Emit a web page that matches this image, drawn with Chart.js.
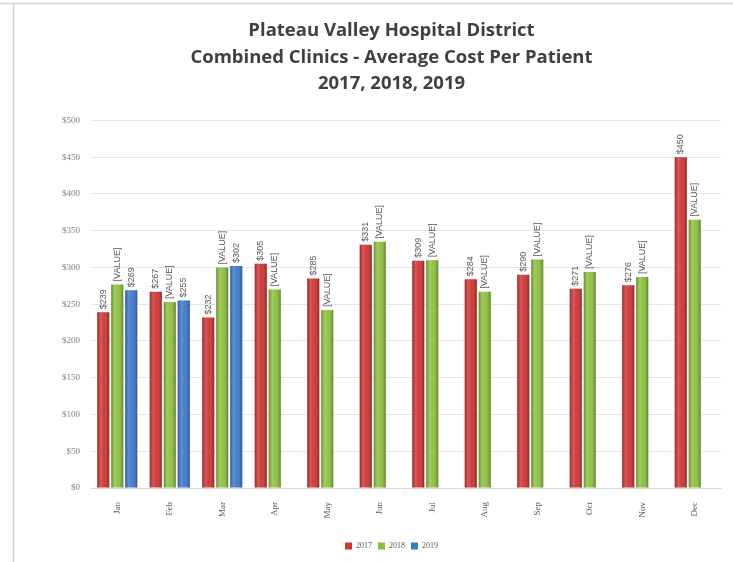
<!DOCTYPE html>
<html>
<head>
<meta charset="utf-8">
<script src="https://cdn.jsdelivr.net/npm/chart.js@4"></script>
<style>
html,body{margin:0;padding:0;background:#fff;}
#wrap{position:relative;width:733px;height:562px;}
</style>
</head>
<body>
<div id="wrap"><canvas id="c" width="733" height="562"></canvas></div>
<script>
const months = ['Jan','Feb','Mar','Apr','May','Jun','Jul','Aug','Sep','Oct','Nov','Dec'];
const seriesNames = ['2017','2018','2019'];
const values2017 = [239,267,232,305,285,331,309,284,290,271,276,450];
const values2018 = [277,253,300,270,242,335,310,267,311,294,287,365];
const values2019 = [269,255,302,null,null,null,null,null,null,null,null,null];
const labels2017 = ['$239','$267','$232','$305','$285','$331','$309','$284','$290','$271','$276','$450'];
const labels2018 = ['[VALUE]','[VALUE]','[VALUE]','[VALUE]','[VALUE]','[VALUE]','[VALUE]','[VALUE]','[VALUE]','[VALUE]','[VALUE]','[VALUE]'];
const labels2019 = ['$269','$255','$302',null,null,null,null,null,null,null,null,null];
const yTicks = [0,50,100,150,200,250,300,350,400,450,500];
const titleLines = ['Plateau Valley Hospital District','Combined Clinics - Average Cost Per Patient','2017, 2018, 2019'];

const colors = ['#D03232','#8CC03C','#3A78CC'];
const pointLabels = [labels2017, labels2018, labels2019];

const framePlugin = {
  id:'frame',
  beforeDraw(chart){
    const ctx = chart.ctx;
    ctx.save();
    ctx.strokeStyle = '#d4d4d4';
    ctx.lineWidth = 1.5;
    ctx.beginPath();
    ctx.moveTo(0,3.5); ctx.lineTo(733,3.5);
    ctx.moveTo(13.5,3.5); ctx.lineTo(13.5,562);
    ctx.stroke();
    ctx.restore();
  }
};

const shadePlugin = {
  id:'shade',
  afterDatasetsDraw(chart){
    const ctx = chart.ctx;
    ctx.save();
    chart.data.datasets.forEach((ds, di) => {
      const meta = chart.getDatasetMeta(di);
      meta.data.forEach((el, i) => {
        if (ds.data[i] == null) return;
        const l = el.x - el.width/2, r = el.x + el.width/2;
        const g = ctx.createLinearGradient(l,0,r,0);
        g.addColorStop(0,'rgba(0,0,0,0.28)');
        g.addColorStop(0.3,'rgba(255,255,255,0.18)');
        g.addColorStop(0.55,'rgba(255,255,255,0.05)');
        g.addColorStop(1,'rgba(0,0,0,0.32)');
        ctx.fillStyle = g;
        ctx.fillRect(l, el.y, r-l, el.base - el.y);
      });
      ctx.fillStyle = '#595959';
      ctx.font = '9px "Liberation Sans", Arial, sans-serif';
      ctx.textBaseline = 'middle';
      ctx.textAlign = 'left';
      meta.data.forEach((el, i) => {
        const t = pointLabels[di][i];
        if (t == null || ds.data[i] == null) return;
        ctx.save();
        ctx.translate(el.x, el.y - 3);
        ctx.rotate(-Math.PI/2);
        ctx.fillText(t, 0, 0);
        ctx.restore();
      });
    });
    ctx.restore();
  }
};

new Chart(document.getElementById('c'), {
  type:'bar',
  data:{
    labels: months,
    datasets:[
      {label:seriesNames[0], data:values2017, backgroundColor:colors[0]},
      {label:seriesNames[1], data:values2018, backgroundColor:colors[1]},
      {label:seriesNames[2], data:values2019, backgroundColor:colors[2]}
    ]
  },
  options:{
    responsive:false,
    animation:false,
    devicePixelRatio:1,
    layout:{padding:{left:62,right:12,top:17,bottom:2}},
    datasets:{bar:{categoryPercentage:0.8,barPercentage:0.86}},
    scales:{
      x:{
        grid:{display:false},
        border:{color:'#d9d9d9'},
        ticks:{color:'#595959',font:{size:9,family:'"Liberation Serif", serif'},minRotation:90,maxRotation:90,padding:6},
        afterFit(s){ s.height = 48; }
      },
      y:{
        min:0,max:500,
        afterBuildTicks(s){ s.ticks = yTicks.map(v=>({value:v})); },
        grid:{color:'#e6e6e6',drawTicks:false},
        border:{display:false},
        ticks:{color:'#7f7f7f',font:{size:9,family:'"Liberation Serif", serif'},padding:11,callback:v=>'$'+v},
        afterFit(s){ s.width = 29; }
      }
    },
    plugins:{
      title:{
        display:true,
        text:titleLines,
        color:'#404040',
        font:{family:'"Open Sans", Lato, sans-serif',size:18.5,weight:'bold',lineHeight:1.45},
        padding:{top:0,bottom:23}
      },
      legend:{
        position:'bottom',
        labels:{color:'#595959',boxWidth:7,boxHeight:7,font:{size:8,family:'"Liberation Serif", serif'},padding:6}
      },
      tooltip:{enabled:false}
    }
  },
  plugins:[framePlugin, shadePlugin]
});
</script>
</body>
</html>
